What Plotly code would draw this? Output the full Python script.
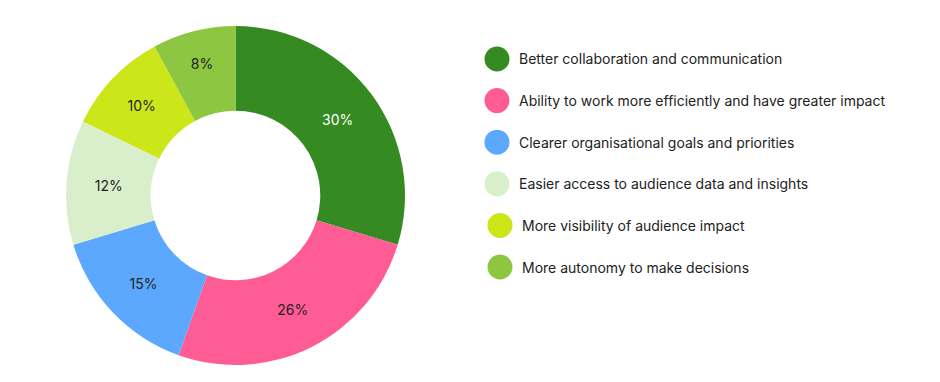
import plotly.graph_objects as go

categories = [
    "Better collaboration and communication",
    "Ability to work more efficiently and have greater impact",
    "Clearer organisational goals and priorities",
    "Easier access to audience data and insights",
    "More visibility of audience impact",
    "More autonomy to make decisions",
]
values = [30, 26, 15, 12, 10, 8]
colors = ["#358A22", "#FF5C96", "#5CA8FF", "#D9EFCC", "#CCE61A", "#8DC641"]
text_colors = ["#FFFFFF", "#222222", "#222222", "#222222", "#222222", "#222222"]

W, H = 940, 382
OFF = 8  # page body margin
FONT = "Inter, Lato, sans-serif"

def px(x):
    return (x - OFF) / W

def py(y):
    return 1 - (y - OFF) / H

fig = go.Figure()
fig.add_trace(go.Pie(
    labels=categories,
    values=values,
    marker=dict(colors=colors, line=dict(width=0)),
    hole=0.5,
    sort=False,
    direction="clockwise",
    rotation=0,
    texttemplate="%{value}%",
    textposition="inside",
    insidetextorientation="horizontal",
    textfont=dict(family=FONT, size=14, color=text_colors),
    domain=dict(x=[px(66), px(405)], y=[py(365), py(26)]),
    showlegend=False,
    hoverinfo="label+value",
))

# custom legend with large circular markers
shapes = []
annotations = []
row0, step, r = 59, 41.6, 12.5
for i, (cat, col) in enumerate(zip(categories, colors)):
    cy = row0 + i * step
    cx = 497 if i < 4 else 500
    shapes.append(dict(
        type="circle", xref="paper", yref="paper",
        x0=px(cx - r), x1=px(cx + r),
        y0=py(cy + r), y1=py(cy - r),
        fillcolor=col, line=dict(width=0),
    ))
    annotations.append(dict(
        xref="paper", yref="paper", x=px(cx + 20), y=py(cy),
        xanchor="left", yanchor="middle", showarrow=False,
        text=cat, font=dict(family=FONT, size=14, color="#222222"),
    ))

fig.update_layout(
    width=W, height=H,
    margin=dict(l=0, r=0, t=0, b=0),
    paper_bgcolor="white", plot_bgcolor="white",
    shapes=shapes, annotations=annotations,
    uniformtext=dict(minsize=14, mode="show"),
)

fig.write_html("out.html")
